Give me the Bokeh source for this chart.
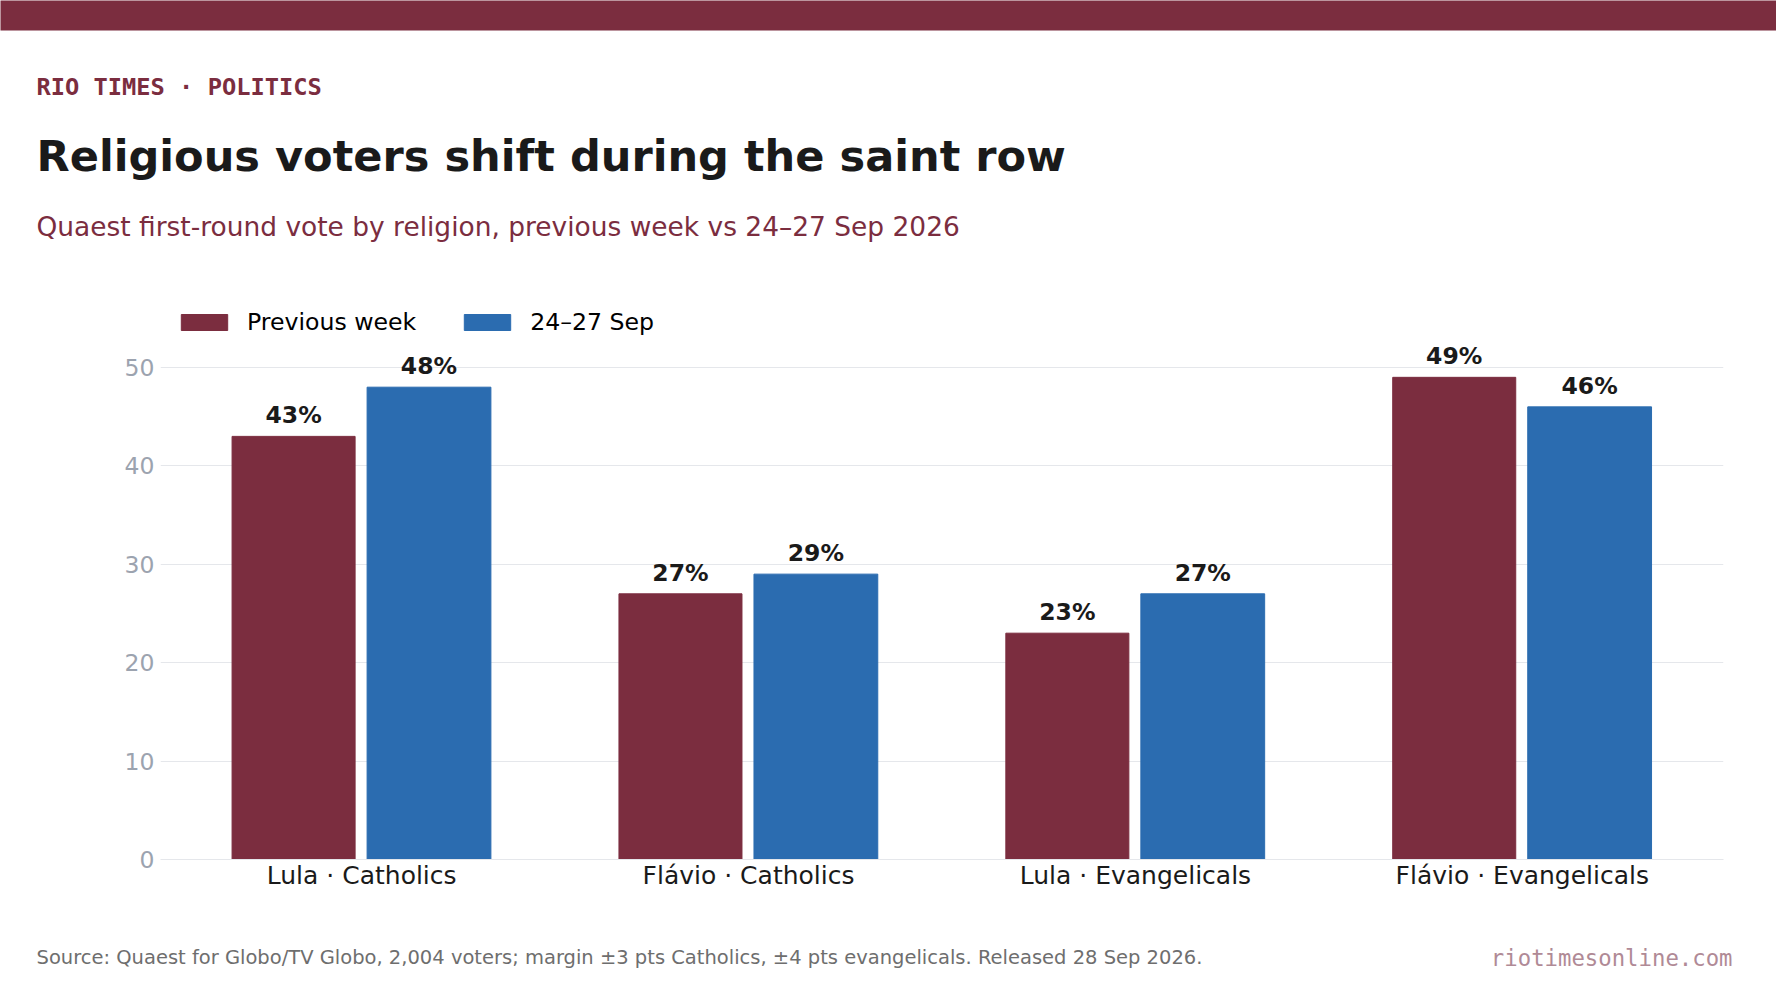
from bokeh.core.properties import value
from bokeh.embed import file_html
from bokeh.layouts import column
from bokeh.resources import INLINE
from bokeh.plotting import figure
from bokeh.models import (ColumnDataSource, FactorRange, Range1d, Label, LabelSet, Legend, LegendItem,
                          BoxAnnotation)
from bokeh.transform import dodge

categories = ["Lula · Catholics", "Flávio · Catholics", "Lula · Evangelicals", "Flávio · Evangelicals"]
previous_week = [43, 27, 23, 49]
sep_24_27 = [48, 29, 27, 46]
series_names = ["Previous week", "24–27 Sep"]
y_ticks = [0, 10, 20, 30, 40, 50]

MAROON = "#7B2D3F"
BLUE = "#2B6CB0"
W = 1776
HEAD_H, MAIN_H, FOOT_H = 299, 621, 79
D1, D2 = -0.1760, 0.1740

src = ColumnDataSource(dict(
    cat=categories, prev=previous_week, cur=sep_24_27,
    prev_t=[f"{v}%" for v in previous_week], cur_t=[f"{v}%" for v in sep_24_27]))

def blank(h):
    f = figure(width=W, height=h, output_backend="svg", toolbar_location=None,
               x_range=Range1d(0, W), y_range=Range1d(0, h), outline_line_color=None,
               min_border=0, min_border_left=0, min_border_right=0, min_border_top=0, min_border_bottom=0)
    f.axis.visible = False
    f.grid.visible = False
    return f

def txt(f, s, x, base, size, color, font="DejaVu Sans", style="normal", align="left"):
    # base: baseline measured from the top of the panel f
    f.add_layout(Label(x=x, y=f.height - base, x_units="screen", y_units="screen", text=s, text_font=font,
                       text_font_size=size, text_font_style=style, text_color=color, text_align=align,
                       text_baseline="alphabetic"))

head = blank(HEAD_H)
head.add_layout(BoxAnnotation(left=-5, right=W + 5, top=HEAD_H + 5, bottom=HEAD_H - 30, left_units="screen",
                              right_units="screen", top_units="screen", bottom_units="screen",
                              fill_color=MAROON, fill_alpha=1, line_color=None))
txt(head, "RIO TIMES · POLITICS", 36, 86, "23.7px", MAROON, "DejaVu Sans Mono", "bold")
txt(head, "Religious voters shift during the saint row", 36, 155.3, "43.1px", "#1a1a1a", style="bold")
txt(head, "Quaest first-round vote by religion, previous week vs 24–27 Sep 2026", 36, 226, "26.45px", MAROON)

p = figure(width=W, height=MAIN_H, output_backend="svg", toolbar_location=None,
           x_range=FactorRange(factors=categories, range_padding=0.01),
           y_range=Range1d(0, 560 / 9.84),
           min_border_left=160, min_border_right=53, min_border_top=0, min_border_bottom=61,
           outline_line_color=None)

r1 = p.vbar(x=dodge("cat", D1, range=p.x_range), top="prev", width=0.318, source=src, color=MAROON)
r2 = p.vbar(x=dodge("cat", D2, range=p.x_range), top="cur", width=0.32, source=src, color=BLUE)

for col, val, d in (("prev_t", "prev", D1), ("cur_t", "cur", D2)):
    p.add_layout(LabelSet(x=dodge("cat", d, range=p.x_range), y=val, text=col, source=src,
                          text_align="center", text_baseline="alphabetic", y_offset=13,
                          text_font=value("DejaVu Sans"), text_font_style="bold",
                          text_font_size=value("23.5px"), text_color="#1a1a1a"))

p.xgrid.visible = False
p.ygrid.grid_line_color = "#E5E7EB"
p.ygrid.grid_line_width = 1
p.ygrid.ticker = y_ticks
p.yaxis.ticker = y_ticks
p.yaxis.axis_line_color = None
p.yaxis.major_tick_line_color = None
p.yaxis.minor_tick_line_color = None
p.yaxis.major_label_standoff = 0
p.yaxis.major_label_text_color = "#9CA3AF"
p.yaxis.major_label_text_font = "DejaVu Sans"
p.yaxis.major_label_text_font_size = "23.5px"
p.xaxis.axis_line_color = "#E5E7EB"
p.xaxis.major_tick_line_color = None
p.xaxis.minor_tick_line_color = None
p.xaxis.major_label_standoff = -5
p.xaxis.major_label_text_color = "#1a1a1a"
p.xaxis.major_label_text_font = "DejaVu Sans"
p.xaxis.major_label_text_font_size = "25px"

legend = Legend(items=[LegendItem(label=series_names[0], renderers=[r1]),
                       LegendItem(label=series_names[1], renderers=[r2])],
                orientation="horizontal", location=(15, 523), background_fill_alpha=0,
                border_line_color=None, glyph_width=58, glyph_height=20, label_standoff=14,
                spacing=42, margin=0, padding=0, label_text_font="DejaVu Sans",
                label_text_font_size="23.6px", label_text_color="#000000")
p.add_layout(legend)

foot = blank(FOOT_H)
txt(foot, "Source: Quaest for Globo/TV Globo, 2,004 voters; margin ±3 pts Catholics, ±4 pts evangelicals. Released 28 Sep 2026.",
    36, 37, "19.5px", "#6e6e6e")
txt(foot, "riotimesonline.com", 1732, 37, "22.3px", "#B08A96", "DejaVu Sans Mono", align="right")

page = column(column(head), p, column(foot), spacing=0)
open("out.html", "w").write(file_html(page, INLINE))
